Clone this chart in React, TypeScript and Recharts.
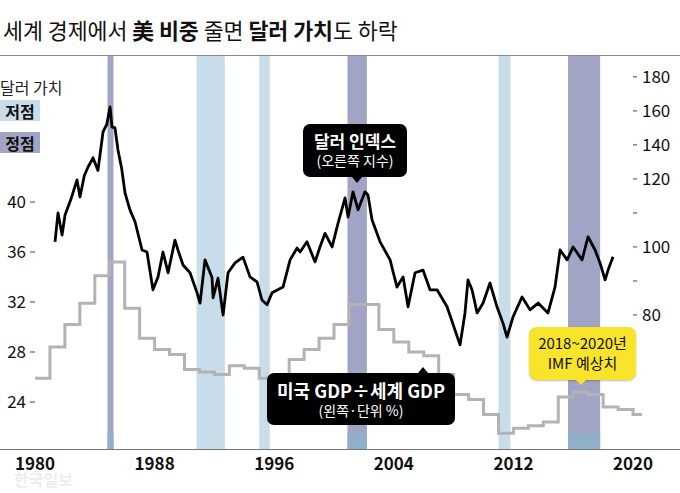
import React from 'react';
import { ComposedChart, Line, XAxis, YAxis, ReferenceArea } from 'recharts';

// Dollar index (right axis)
const dxyYears = [
  1981.34, 1981.54, 1981.81, 1982.01, 1982.4, 1982.81, 1983.01, 1983.3, 1983.55, 1983.88, 1984.21, 1984.55, 1984.8,
  1985.02, 1985.15, 1985.35, 1985.55, 1985.8, 1986.02, 1986.35, 1986.69, 1987.16, 1987.49, 1987.89,
  1988.23, 1988.56, 1988.9, 1989.36, 1989.57, 1989.9, 1990.37, 1990.84, 1991.04, 1991.37, 1991.84,
  1991.91, 1992.24, 1992.58, 1992.91, 1993.38, 1993.91, 1994.38, 1994.85, 1995.18, 1995.52, 1995.85,
  1996.59, 1997.06, 1997.53, 1997.73, 1998.19, 1998.73, 1999.06, 1999.4, 1999.87, 2000.27, 2000.74,
  2000.94, 2001.27, 2001.61, 2002.07, 2002.27, 2002.54, 2003.08, 2003.75, 2004.21, 2004.62, 2004.95,
  2005.42, 2005.95, 2006.42, 2006.89, 2007.56, 2008.09, 2008.43, 2008.76, 2008.96, 2009.23, 2009.57,
  2009.97, 2010.43, 2010.9, 2011.3, 2011.57, 2011.97, 2012.58, 2013.11, 2013.65, 2014.31, 2014.78,
  2015.12, 2015.59, 2015.99, 2016.59, 2016.99, 2017.46, 2017.79, 2018.13, 2018.33, 2018.66,
];
const dxyValues = [
  101.5, 110, 103.5, 109.4, 114, 119.7, 114.7, 122, 127, 132.4, 125, 147.6, 152,
  162.4, 150.6, 150, 137, 126, 115.9, 110.9, 107.4, 99.1, 98.5, 87.4,
  91.2, 98.5, 92.4, 102, 99, 94.7, 92.4, 86.5, 83.5, 96.2, 91,
  85, 90.8, 80, 92.4, 95.3, 97, 91.2, 89.7, 84.4, 83, 86.5,
  88.2, 96.2, 99.7, 98.5, 101.5, 95.6, 100, 104, 100, 107, 114.4,
  108.8, 116.2, 110.9, 116.2, 115.3, 108, 101.5, 96.2, 88.2, 91.2, 82.4,
  92.4, 93.2, 87.4, 87.4, 82.4, 75.6, 71.2, 80.6, 90.3, 87.4, 80.6,
  83.5, 89.4, 82.4, 77.6, 73.5, 79.4, 85.3, 81.5, 83.5, 80.6, 88.2,
  99.1, 96.2, 100, 96.2, 103, 99.1, 95.3, 90.3, 93.2, 97.1,
];

// US GDP / world GDP, % (left axis)
const gdpYears = [
  1980, 1981, 1982, 1983, 1984, 1985, 1986, 1987, 1988, 1989, 1990, 1991, 1992, 1993, 1994, 1995, 1996,
  1997, 1998, 1999, 2000, 2001, 2002, 2003, 2004, 2005, 2006, 2007, 2008, 2009, 2010, 2011, 2012, 2013,
  2014, 2015, 2016, 2017, 2018, 2019, 2020, 2020.6,
];
const gdpValues = [
  25.9, 28.4, 30.2, 31.9, 34.1, 35.2, 31.5, 29.1, 28.2, 27.8, 26.6, 26.4, 26.2, 26.9, 26.7, 25.9, 26.2,
  27.4, 28.2, 29.1, 30.2, 31.8, 31.8, 29.8, 28.8, 28.0, 27.7, 26.2, 24.6, 24.2, 23.0, 21.5, 21.9, 22.1,
  22.4, 24.4, 24.8, 24.6, 23.6, 23.4, 23.0, 23.0,
];

const xTicks = [1980, 1988, 1996, 2004, 2012, 2020];
const leftTicks = [24, 28, 32, 36, 40];
const rightTickValues = [80, 90, 100, 110, 120, 140, 160, 180];
const rightTickLabels = ['80', '', '100', '', '120', '140', '160', '180'];

// Bands: troughs (저점) and peaks (정점) of the dollar
const troughBands = [[1990.8, 1992.7], [1995.0, 1995.7], [2011.0, 2011.8]];
const peakBands = [[1984.85, 1985.25], [2000.9, 2002.2], [2015.65, 2017.8]];

// right axis is drawn with equal spacing per tick: 10 per step up to 120, 20 per step above
const toStep = (v: number) => (v <= 120 ? (v - 80) / 10 : 4 + (v - 120) / 20);

const dxyData = dxyYears.map((y, i) => ({ year: y, dxy: toStep(dxyValues[i]) }));
const gdpData = gdpYears.map((y, i) => ({ year: y, gdp: gdpValues[i] }));

const FONT = '"Noto Sans CJK KR", "Noto Sans", sans-serif';
const LEFT_DOMAIN: [number, number] = [20.16, 52.16];
const RIGHT_DOMAIN: [number, number] = [-3.97, 7.79];
const STRIP_TOP = 21.52;

const RightTick = (props: any) => {
  const { x, y, payload } = props;
  const idx = rightTickValues.findIndex((v) => Math.abs(toStep(v) - payload.value) < 1e-6);
  const label = idx >= 0 ? rightTickLabels[idx] : '';
  return (
    <g>
      <line x1={x - 15} x2={x - 11} y1={y} y2={y} stroke="#444" strokeWidth={1} />
      {label ? (
        <text x={x - 6} y={y} dy="0.36em" textAnchor="start" fontSize={17} fill="#111" fontFamily={FONT}>
          {label}
        </text>
      ) : null}
    </g>
  );
};

const legendBox = (top: number, bg: string): React.CSSProperties => ({
  position: 'absolute', left: 0, top, width: 40, height: 21, background: bg,
  display: 'flex', alignItems: 'center', justifyContent: 'center',
  fontSize: 16, fontWeight: 700, lineHeight: '16px', color: '#111', whiteSpace: 'nowrap',
});

export default function App() {
  return (
    <div style={{ position: 'absolute', left: 0, top: 0, width: 680, height: 493, background: '#fff', overflow: 'hidden', fontFamily: FONT }}>
      <ComposedChart width={680} height={493} margin={{ top: 50, right: 0, bottom: 0, left: 0 }}>
        <XAxis
          xAxisId="x"
          type="number"
          dataKey="year"
          domain={[1980, 2021]}
          ticks={xTicks}
          axisLine={false}
          tickLine={false}
          height={43}
          tick={{ fontSize: 17, fill: '#111', fontWeight: 600, fontFamily: FONT }}
          allowDecimals={false}
        />
        <YAxis
          yAxisId="left"
          orientation="left"
          width={35}
          domain={LEFT_DOMAIN}
          ticks={leftTicks}
          allowDataOverflow
          axisLine={false}
          tickSize={5}
          tickMargin={4}
          tickLine={{ stroke: '#444' }}
          tick={{ fontSize: 17, fill: '#111', fontFamily: FONT }}
        />
        <YAxis
          yAxisId="right"
          orientation="right"
          width={32}
          domain={RIGHT_DOMAIN}
          ticks={rightTickValues.map(toStep)}
          allowDataOverflow
          axisLine={false}
          tickLine={false}
          tickSize={0}
          tickMargin={0}
          tick={<RightTick />}
        />
        {troughBands.map(([a, b], i) => (
          <ReferenceArea key={'t' + i} xAxisId="x" yAxisId="left" x1={a} x2={b} y1={LEFT_DOMAIN[0]} y2={LEFT_DOMAIN[1]} fill="#c9dcea" fillOpacity={1} stroke="none" />
        ))}
        {peakBands.map(([a, b], i) => (
          <ReferenceArea key={'p' + i} xAxisId="x" yAxisId="left" x1={a} x2={b} y1={LEFT_DOMAIN[0]} y2={LEFT_DOMAIN[1]} fill="#a2a4c6" fillOpacity={1} stroke="none" />
        ))}
        {peakBands.map(([a, b], i) => (
          <ReferenceArea key={'ps' + i} xAxisId="x" yAxisId="left" x1={a} x2={b} y1={LEFT_DOMAIN[0]} y2={STRIP_TOP} fill="#8fb0c9" fillOpacity={1} stroke="none" />
        ))}
        <Line
          xAxisId="x"
          yAxisId="left"
          data={gdpData}
          dataKey="gdp"
          type="stepAfter"
          stroke="#b3b3b3"
          strokeWidth={3}
          dot={false}
          isAnimationActive={false}
        />
        <Line
          xAxisId="x"
          yAxisId="right"
          data={dxyData}
          dataKey="dxy"
          type="linear"
          stroke="#000"
          strokeWidth={2.8}
          strokeLinejoin="round"
          dot={false}
          isAnimationActive={false}
        />
      </ComposedChart>

      {/* full width baseline */}
      <div style={{ position: 'absolute', left: 0, top: 449, width: 680, height: 0, borderTop: '1.5px solid #777' }} />

      {/* title */}
      <div style={{ position: 'absolute', left: 0, top: 0, width: 680, height: 55, background: '#fff', borderBottom: '1.5px solid #8a8a8a' }}>
        <div style={{ position: 'absolute', left: 3, top: 14, fontSize: 22, lineHeight: '30px', color: '#111', whiteSpace: 'nowrap', transform: 'scaleX(0.985)', transformOrigin: 'left center' }}>
          세계 경제에서 <b>美 비중</b> 줄면 <b>달러 가치</b>도 하락
        </div>
      </div>

      {/* legend */}
      <div style={{ position: 'absolute', left: 0, top: 79, fontSize: 16, lineHeight: '16px', color: '#222', whiteSpace: 'nowrap' }}>달러 가치</div>
      <div style={legendBox(100, '#c9dcea')}>저점</div>
      <div style={legendBox(132, '#a2a4c6')}>정점</div>

      {/* dollar index callout */}
      <div style={{ position: 'absolute', left: 303, top: 124, width: 104, height: 53, background: '#000', borderRadius: 7, color: '#fff', textAlign: 'center' }}>
        <div style={{ fontSize: 17, fontWeight: 700, lineHeight: '20px', marginTop: 7 }}>달러 인덱스</div>
        <div style={{ fontSize: 14, lineHeight: '18px' }}>(오른쪽 지수)</div>
      </div>
      <div style={{ position: 'absolute', left: 352, top: 177, width: 0, height: 0, borderLeft: '5px solid transparent', borderRight: '5px solid transparent', borderTop: '6px solid #000' }} />

      {/* GDP callout */}
      <div style={{ position: 'absolute', left: 267, top: 373, width: 188, height: 52, background: '#000', borderRadius: 7, color: '#fff', textAlign: 'center' }}>
        <div style={{ fontSize: 18, fontWeight: 700, lineHeight: '22px', marginTop: 6 }}>미국 GDP÷세계 GDP</div>
        <div style={{ fontSize: 14, lineHeight: '18px' }}>(왼쪽·단위 %)</div>
      </div>
      <div style={{ position: 'absolute', left: 418, top: 367, width: 0, height: 0, borderLeft: '5px solid transparent', borderRight: '5px solid transparent', borderBottom: '6px solid #000' }} />

      {/* IMF callout */}
      <div style={{ position: 'absolute', left: 529, top: 327, width: 107, height: 53, background: '#f7e42b', borderRadius: 8, color: '#111', textAlign: 'center', boxShadow: '0 1px 2px rgba(0,0,0,0.25)' }}>
        <div style={{ fontSize: 15, lineHeight: '20px', marginTop: 6 }}>2018~2020년</div>
        <div style={{ fontSize: 15, lineHeight: '20px' }}>IMF 예상치</div>
      </div>
      <div style={{ position: 'absolute', left: 576, top: 380, width: 0, height: 0, borderLeft: '5px solid transparent', borderRight: '5px solid transparent', borderTop: '5px solid #f7e42b' }} />

      {/* watermark */}
      <div style={{ position: 'absolute', left: 14, top: 467, fontSize: 16, fontWeight: 700, color: '#ededed', whiteSpace: 'nowrap' }}>한국일보</div>
    </div>
  );
}
